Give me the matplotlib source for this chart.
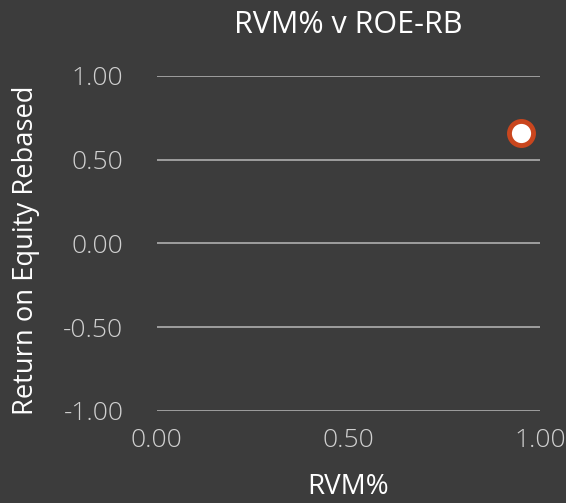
import matplotlib.pyplot as plt

# data
rvm = [0.95]
roe_rb = [0.66]
x_ticks = [0.0, 0.5, 1.0]
y_ticks = [-1.0, -0.5, 0.0, 0.5, 1.0]

bg = '#3c3c3c'
plt.rcParams['font.family'] = ['Open Sans', 'DejaVu Sans']
plt.rcParams['font.weight'] = 'light'

fig = plt.figure(figsize=(5.66, 5.03), dpi=100, facecolor=bg)
ax = fig.add_axes([0.277, 0.183, 0.677, 0.666], facecolor=bg)

ax.scatter(rvm, roe_rb, s=300, facecolor='white', edgecolor='#c9461e',
           linewidth=3.5, zorder=3, clip_on=False)

ax.set_xlim(0, 1)
ax.set_ylim(-1, 1)
ax.set_xticks(x_ticks)
ax.set_yticks(y_ticks)
ax.set_xticklabels([f'{v:.2f}' for v in x_ticks])
ax.set_yticklabels([f'{v:.2f}' for v in y_ticks])

for s in ax.spines.values():
    s.set_visible(False)
ax.grid(axis='y', color='#a6a6a6', linewidth=1.3)
ax.set_axisbelow(True)
ax.tick_params(axis='both', length=0, labelsize=19, colors='#d0d0d0')
ax.tick_params(axis='y', pad=24)
ax.tick_params(axis='x', pad=12)

ax.set_title('RVM% v ROE-RB', color='white', fontsize=22, pad=31)
ax.set_xlabel('RVM%', color='white', fontsize=20, labelpad=15)
ax.set_ylabel('Return on Equity Rebased', color='white', fontsize=19.7, labelpad=17)
ax.yaxis.label.set_y(0.48)

fig.savefig('out.png', facecolor=bg)
